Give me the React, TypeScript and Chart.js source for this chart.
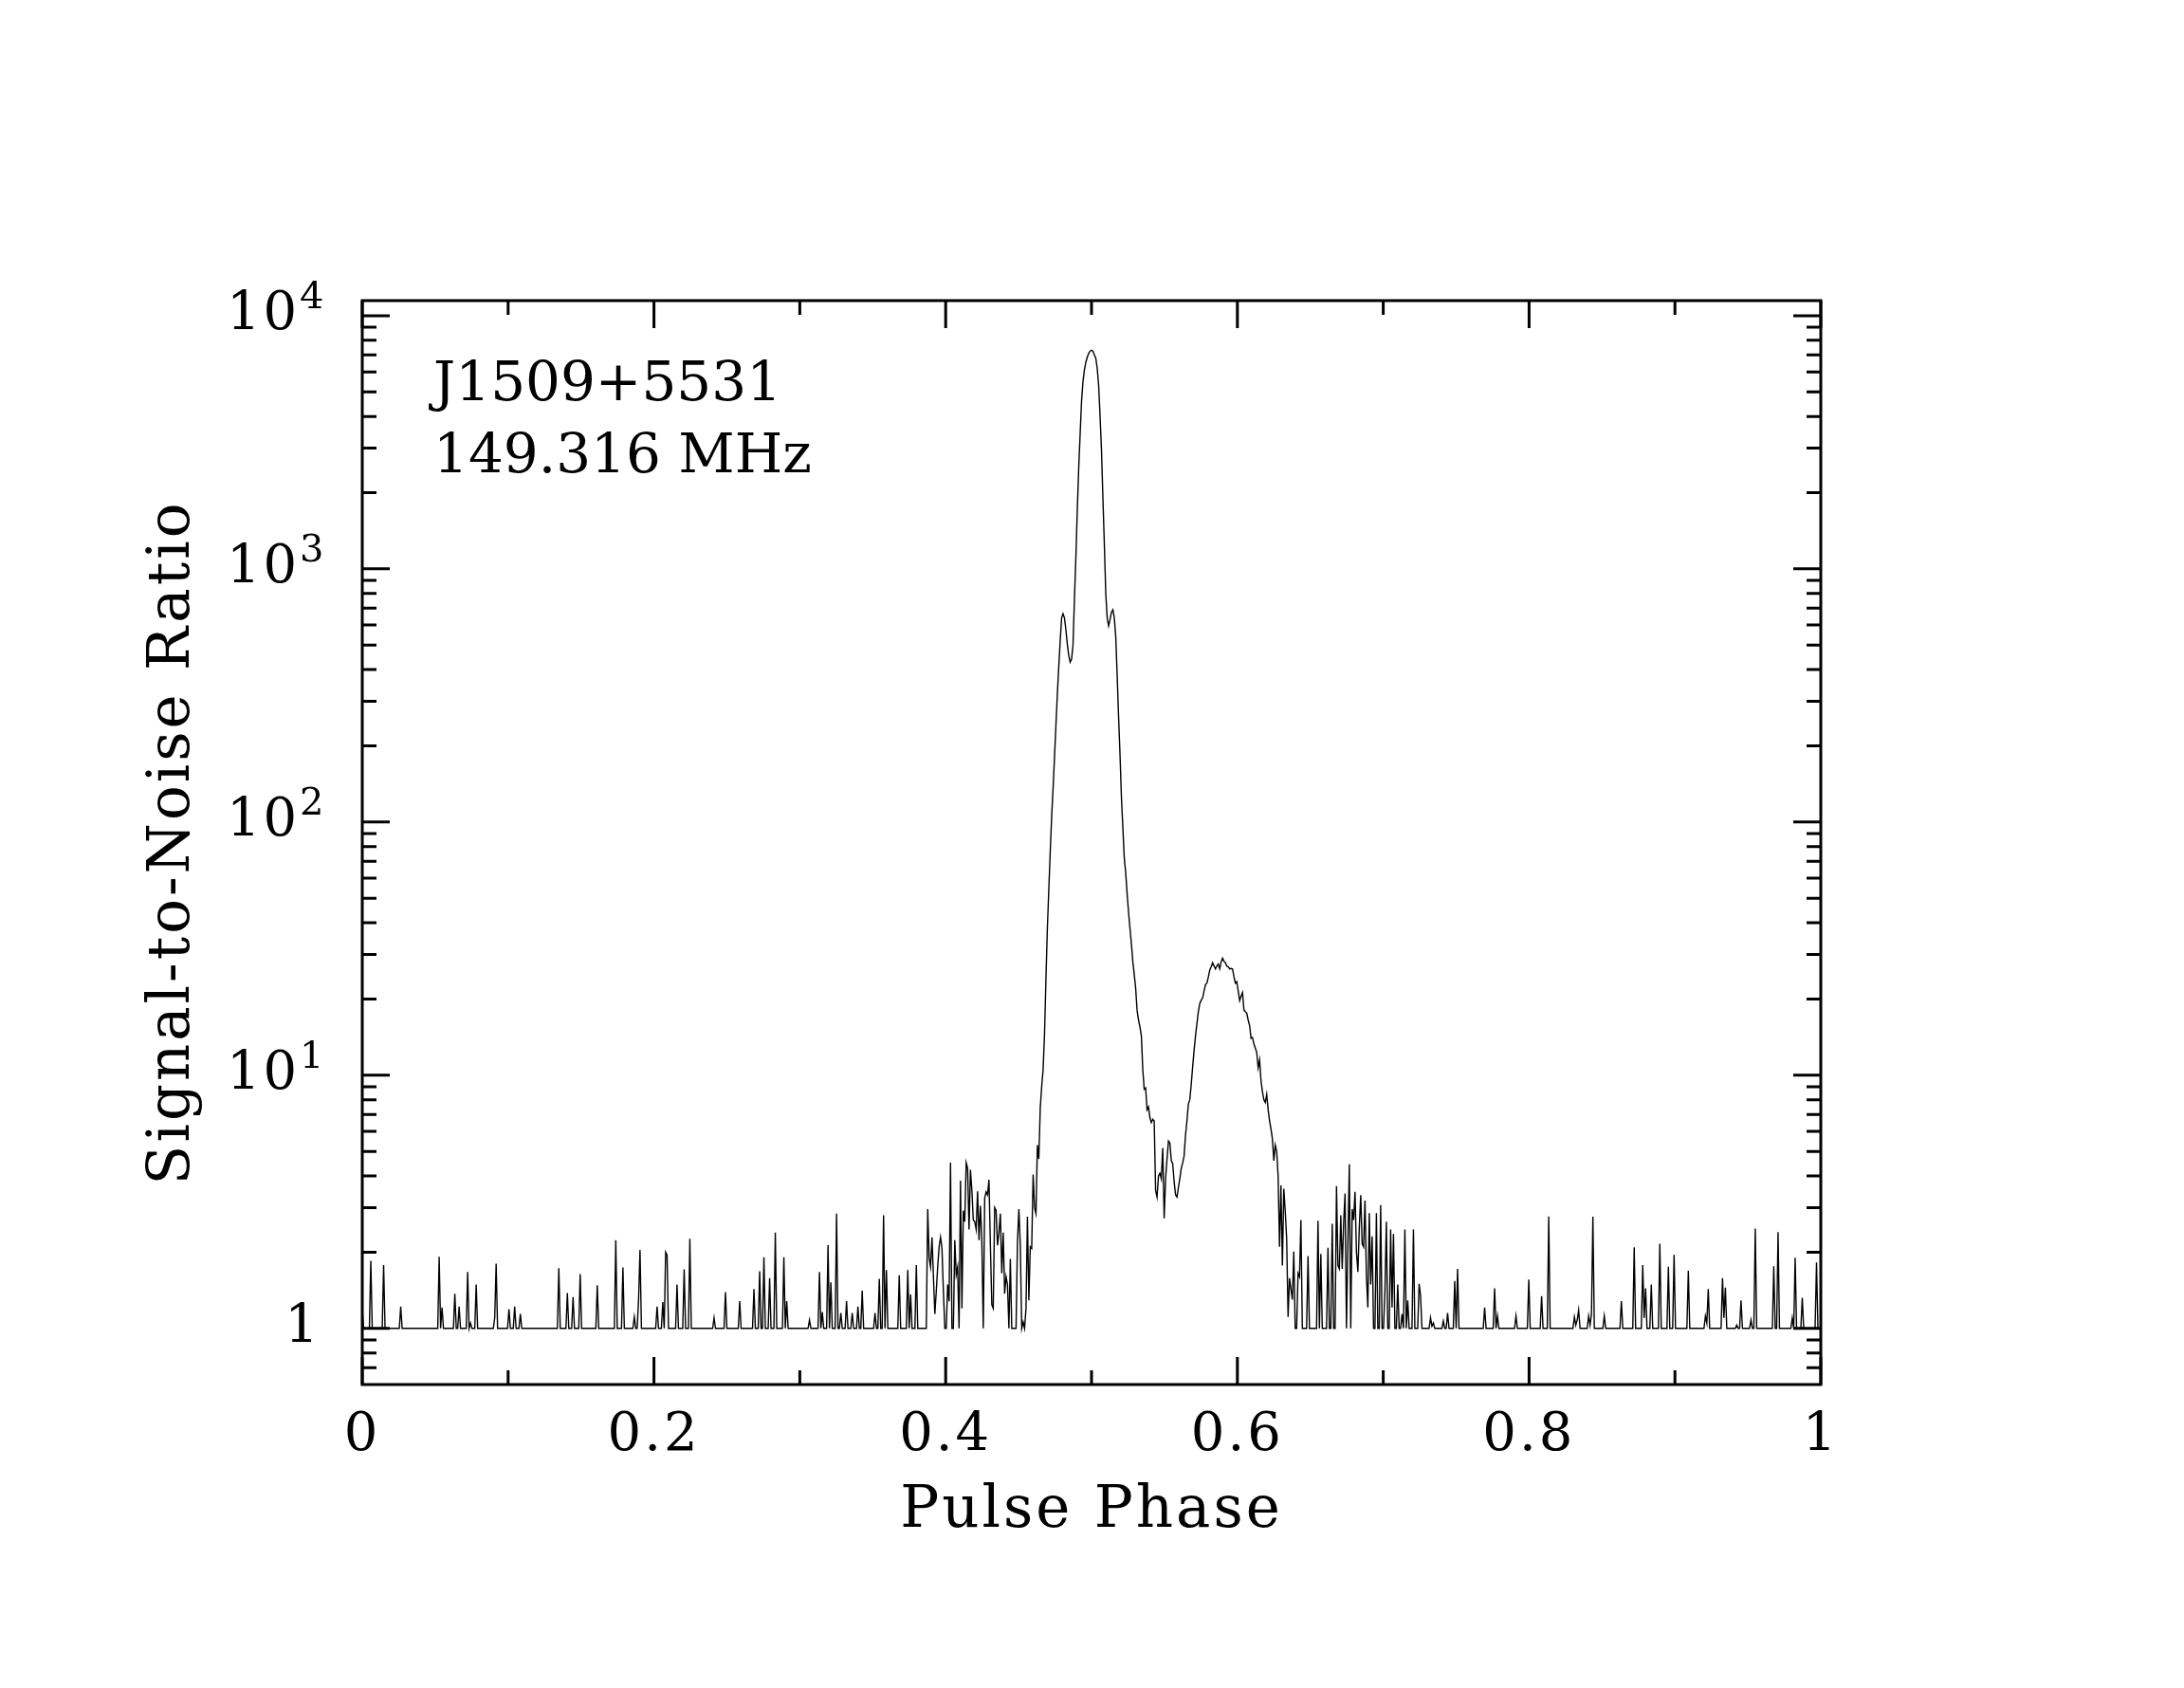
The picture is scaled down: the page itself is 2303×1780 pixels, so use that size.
import React, { useEffect, useRef } from 'react';
import { Chart, registerables } from 'chart.js';

Chart.register(...registerables);

const BINS = 1024;

// Signal-to-noise per phase bin (1024 bins).
const noiseLeft = [
  1.19,1,1,1,1,1,1.85,1,1,1,1,1,1,1,1,1.78,1,1,1,1,
  1,1,1,1,1,1,1,1.22,1,1,1,1,1,1,1,1,1,1,1,1,
  1,1,1,1,1,1,1,1,1,1,1,1,1,1,1.92,1,1.21,1,1,1,
  1,1,1,1,1,1.37,1,1,1.22,1,1,1,1,1,1.67,1,1.05,1,1,1,
  1.49,1,1,1,1,1,1,1,1,1,1,1,1,1.1,1.8,1,1,1,1,1,
  1,1,1,1.19,1,1,1,1.22,1,1,1,1.14,1,1,1,1,1,1,1,1,
  1,1,1,1,1,1,1,1,1,1,1,1,1,1,1,1,1,1,1.73,1,
  1,1,1,1,1.38,1,1,1,1.33,1,1,1,1,1.64,1,1,1,1,1,1,
  1,1,1,1,1,1.48,1,1,1,1,1,1,1,1,1,1,1,1,2.23,1,
  1,1,1,1.74,1,1,1,1,1,1,1,1.11,1,1,1.3,2.04,1,1,1,1,
  1,1,1,1,1,1,1,1.22,1,1,1,1.27,1,2.0,1.95,1,1,1,1,1,
];

const noiseMid = [
  1,1.49,1,1,1,1,1.71,1,1,1,2.26,1,1,1,1,1,1,1,1,1,
  1,1,1,1,1,1,1,1.1,1,1,1,1,1,1,1,1.39,1,1,1,1,
  1,1,1,1,1,1.28,1,1,1,1,1,1,1,1,1,1.43,1,1,1,1.68,
  1,1,1.91,1,1,1,1.58,1,1,1,2.39,1,1,1,1,1,1.91,1,1.28,1,
  1,1,1,1,1,1,1,1,1,1,1,1,1,1,1.08,1,1,1,1,1,
  1,1.67,1,1.16,1,1,1,2.13,1,1.52,1,1,1,2.84,1,1,1.15,1,1,1,
  1.28,1,1,1,1.15,1,1,1,1.22,1,1,1.41,1,1,1,1,1,1,1,1,
  1.15,1,1,1.57,1,1,2.8,1,1.7,1,1,1,1,1,1,1,1,1.62,1,1,
  1,1,1,1.7,1,1.36,1,1,1,1.78,1,1,1,1,1,1,1,2.96,1.9,1.75,
];

const pulseRise = [
  2.29,1.6,1.14,1.4,1.75,2.1,2.29,2.07,1.4,1,
  1,1.49,1.28,4.51,1,1,2.23,1.63,1.75,1,
  3.83,1.2,2.92,2.64,4.51,4.29,2.46,4.23,3.5,2.68,
  2.64,2.46,3.48,2.23,3.05,2.19,1,3.27,3.46,3.37,
  3.86,2.13,1.24,1.2,3.0,2.92,2.13,2.39,2.84,1.65,
  2.39,1.37,1.6,1.49,1,1.88,1,1,1,1,
  2.19,2.96,2.13,1,1.06,1,1.2,2.76,1.29,2.1,
  2.07,4.05,3.0,2.84,5.3,4.67,7.4,
];

const mainPulse = [
  9.0,10.5,14.5,24,38,54,76,105,135,180,
  240,320,410,520,640,665,640,575,505,455,
  428,440,500,760,1100,1700,2500,3400,4600,5500,
  6100,6550,6850,7100,7250,7300,7250,7000,6800,6200,
  5300,4000,2950,1900,1250,800,640,595,630,675,
  690,640,540,380,260,185,125,95,72,63,
  52,44,38,33,28,25,22,18,16.5,15.5,14.3,
];

const secondComponent = [
  10.5,8.8,8.9,7.3,7.5,6.8,6.5,6.7,6.6,3.5,
  3.3,4.0,4.1,3.9,5.16,2.72,3.9,4.67,5.5,5.4,
  4.6,4.47,3.8,3.37,3.3,3.6,3.9,4.29,4.5,4.8,
  5.8,6.6,7.7,8.0,9.2,10.8,12.5,14.3,16.0,17.8,
  19.2,19.8,20.2,21.5,22.8,23.1,24.4,26.0,26.8,27.8,
  27.0,26.3,27.0,27.5,26.3,28.0,29.0,28.2,27.8,27.0,
  26.8,26.3,26.4,26.3,24.5,23.1,23.4,21.5,19.7,20.5,
  21.2,18.1,17.8,17.6,16.5,15.7,14.0,14.1,13.3,12.8,
  12.3,10.7,11.5,9.5,8.6,8.0,7.8,8.4,7.3,6.6,
  6.13,5.6,4.6,5.3,5.0,4.0,
];

const trailingNoise = [
  2.1,3.67,1.77,3.56,2.9,2.26,1.11,1.58,1.43,1.3,
  2.01,1,1,1.65,1.6,2.68,1,1,1,1,
  1.93,1,1,1,1,1,1,2.66,1,1.97,
  1,1,1,1,2.08,1,1,2.59,1,1,
  3.65,1.77,1.72,2.8,1.72,2.6,3.41,1,2.2,4.45,
  1,2.96,2.68,3.46,2.0,1.67,2.5,3.36,2.16,2.1,
  3.2,1.6,1.21,2.85,1.49,2.31,1,1,2.85,1,
  1,3.07,1,1,1.41,2.64,1,1,2.46,1.21,
  2.36,1,1,1.49,1,1,1.14,1,2.46,1,
  1.29,1,1,1,2.46,1,1,1,1.5,1.35,
  1,1,1,1,1,1,1.1,1.02,1.05,1,
  1,1,1,1,1,1.07,1,1,1.15,1,
  1,1,1,1.54,1,1.72,
];

const noiseRight = [
  1,1,1,1,1,1,1,1,1,1,1,1,1,1,1,1,1,1,1.21,1,
  1,1,1,1,1,1.44,1,1.12,1,1,1,1,1,1,1,1,1,1,1,1,
  1.12,1,1,1,1,1,1,1,1,1.56,1,1,1,1,1,1,1,1,1.34,1,
  1,1,1,2.77,1,1,1,1,1,1,1,1,1,1,1,1,1,1,1,1,
  1,1.11,1.03,1.08,1.18,1,1,1,1,1,1,1.12,1.03,1.14,2.76,1,1,1,1,1,
  1,1,1.12,1,1,1,1,1,1,1,1,1,1,1,1.28,1,1,1,1,1,
  1,1,1,2.09,1,1,1,1,1,1.78,1.1,1.44,1,1,1,1.49,1,1,1,1,
  1,2.16,1,1,1,1,1,1.75,1,1,1,1.95,1,1,1,1,1,1,1,1,
  1,1.69,1,1,1,1,1,1,1,1,1,1,1,1.12,1.05,1.43,1,1,1,1,
  1,1,1,1,1,1.58,1.1,1.45,1,1,1,1,1,1,1,1.03,1,1,1.29,1,
  1,1,1,1,1,1.08,1,1,2.48,1,1,1,1,1,1,1,1,1,1,1,
  1,1.76,1,1,2.4,1,1,1,1,1,1,1,1,1,1.1,1,1.9,1,1,1,
  1,1.32,1,1,1,1,1,1,1,1,1,1.82,1,1,
];

const xTickValues = [0, 0.2, 0.4, 0.6, 0.8, 1];
const xTickLabels = ['0', '0.2', '0.4', '0.6', '0.8', '1'];
const xMinorTicks = [0.1, 0.3, 0.5, 0.7, 0.9];
const yTickValues = [1, 10, 100, 1000, 10000];
const yTickLabels = ['1', '10\u2009\u200A', '10\u2009\u200A', '10\u2009\u200A', '10\u2009\u200A'];
const yTickExponents = ['', '1', '2', '3', '4'];
const yMinorTicks = [
  0.7, 0.8, 0.9,
  2, 3, 4, 5, 6, 7, 8, 9,
  20, 30, 40, 50, 60, 70, 80, 90,
  200, 300, 400, 500, 600, 700, 800, 900,
  2000, 3000, 4000, 5000, 6000, 7000, 8000, 9000,
];
const annotationLines = ['J1509+5531', '149.316 MHz'];
const xTitle = 'Pulse Phase';
const yTitle = 'Signal-to-Noise Ratio';

const FONT = '"DejaVu Serif", serif';
const MAJOR_LEN = 29;
const MINOR_LEN = 15;

const framePlugin = {
  id: 'pgplotFrame',
  beforeDraw(chart: any) {
    chart.ctx.letterSpacing = '3px';
  },
  afterDraw(chart: any) {
    const { ctx, chartArea: a, scales } = chart;
    const xs = scales.x;
    const ys = scales.y;
    ctx.save();
    ctx.letterSpacing = '0px';
    ctx.strokeStyle = '#000';
    ctx.lineWidth = 3;
    ctx.lineCap = 'butt';
    ctx.beginPath();
    const seg = (x1: number, y1: number, x2: number, y2: number) => {
      ctx.moveTo(x1, y1);
      ctx.lineTo(x2, y2);
    };
    const xt = (vals: number[], len: number) => vals.forEach((v) => {
      const p = xs.getPixelForValue(v);
      seg(p, a.bottom, p, a.bottom - len);
      seg(p, a.top, p, a.top + len);
    });
    const yt = (vals: number[], len: number) => vals.forEach((v) => {
      const p = ys.getPixelForValue(v);
      seg(a.left, p, a.left + len, p);
      seg(a.right, p, a.right - len, p);
    });
    xt(xTickValues, MAJOR_LEN);
    xt(xMinorTicks, MINOR_LEN);
    yt(yTickValues, MAJOR_LEN);
    yt(yMinorTicks, MINOR_LEN);
    ctx.stroke();
    ctx.strokeRect(a.left, a.top, a.right - a.left, a.bottom - a.top);

    ctx.fillStyle = '#000';
    ctx.textAlign = 'left';
    ctx.textBaseline = 'alphabetic';

    // exponents of the decade labels
    ctx.font = `40px ${FONT}`;
    yTickValues.forEach((v, i) => {
      if (!yTickExponents[i]) return;
      const p = ys.getPixelForValue(v);
      ctx.fillText(yTickExponents[i], a.left - 66, p - 8);
    });

    // source annotation
    ctx.font = `58px ${FONT}`;
    ctx.fillText(annotationLines[0], a.left + 75, a.top + 105);
    ctx.fillText(annotationLines[1], a.left + 75, a.top + 181);
    ctx.restore();
  },
};

export default function App() {
  const ref = useRef<HTMLCanvasElement | null>(null);

  useEffect(() => {
    if (!ref.current) return;
    const snr = [
      ...noiseLeft,
      ...noiseMid,
      ...pulseRise,
      ...mainPulse,
      ...secondComponent,
      ...trailingNoise,
      ...noiseRight,
    ];
    const points = snr.map((v, i) => ({ x: i / BINS, y: v }));
    const tickFont = { family: FONT, size: 56 };
    const titleFont = { family: FONT, size: 61 };

    const chart = new Chart(ref.current, {
      type: 'line',
      data: {
        datasets: [
          {
            data: points,
            borderColor: '#000',
            borderWidth: 1.4,
            pointRadius: 0,
            tension: 0,
            fill: false,
          },
        ],
      },
      options: {
        responsive: false,
        maintainAspectRatio: false,
        animation: false,
        events: [],
        layout: { padding: { left: 0, right: 383, top: 317, bottom: 0 } },
        plugins: { legend: { display: false }, tooltip: { enabled: false } },
        scales: {
          x: {
            type: 'linear',
            min: 0,
            max: 1,
            grid: { display: false, drawTicks: false },
            border: { display: false },
            afterFit: (s: any) => { s.height = 320; },
            afterBuildTicks: (s: any) => { s.ticks = xTickValues.map((v) => ({ value: v })); },
            ticks: {
              autoSkip: false,
              maxRotation: 0,
              minRotation: 0,
              padding: 21,
              color: '#000',
              font: tickFont,
              callback: (_v: any, i: number) => xTickLabels[i],
            },
            title: {
              display: true,
              text: xTitle,
              color: '#000',
              font: titleFont,
              padding: { top: 0, bottom: 149 },
            },
          },
          y: {
            type: 'logarithmic',
            min: 0.643,
            max: 11470,
            grid: { display: false, drawTicks: false },
            border: { display: false },
            afterFit: (s: any) => { s.width = 382; },
            afterBuildTicks: (s: any) => { s.ticks = yTickValues.map((v) => ({ value: v })); },
            ticks: {
              autoSkip: false,
              padding: 43,
              color: '#000',
              font: tickFont,
              callback: (_v: any, i: number) => yTickLabels[i],
            },
            title: {
              display: true,
              text: yTitle,
              color: '#000',
              font: titleFont,
              padding: { top: 147, bottom: 0 },
            },
          },
        },
      },
      plugins: [framePlugin],
    } as any);

    return () => chart.destroy();
  }, []);

  return (
    <div style={{ position: 'fixed', left: 0, top: 0, width: 2303, height: 1780, background: '#fff' }}>
      <canvas ref={ref} width={2303} height={1780} style={{ width: 2303, height: 1780, display: 'block' }} />
    </div>
  );
}
